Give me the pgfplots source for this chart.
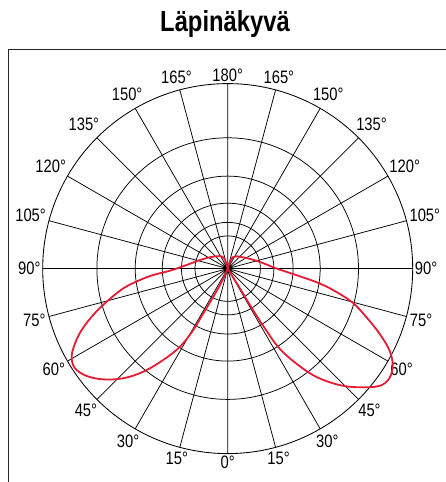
\documentclass[border=0pt]{standalone}
\usepackage{fontspec}
\setmainfont{Liberation Sans}[FakeStretch=0.82]
\usepackage{pgfplots}
\pgfplotsset{compat=1.18}
\usepgfplotslibrary{polar}
\definecolor{curvered}{RGB}{228,28,52}
\begin{document}
\begin{tikzpicture}[x=1pt,y=1pt]
\useasboundingbox (0,0) rectangle (445,482);
\draw[line width=1.5pt, black!85] (8.5,-5) -- (8.5,432.5) -- (450,432.5);
\node[anchor=base, font=\bfseries\fontsize{29}{32}\selectfont, inner sep=0pt] at (225,450) {Läpinäkyvä};
\begin{polaraxis}[
  at={(227.7pt,213.4pt)}, anchor=center,
  scale only axis, width=370pt, height=370pt,
  ymin=0, ymax=185,
  ytick={32.7,46.25,65.4,92.5,130.8},
  yticklabels={},
  xtick={0,15,...,345},
  xticklabels={90°,105°,120°,135°,150°,165°,180°,165°,150°,135°,120°,105°,90°,75°,60°,45°,30°,15°,0°,15°,30°,45°,60°,75°},
  grid=major,
  major grid style={black, line width=0.75pt},
  axis line style={black, line width=0.85pt},
  major tick length=0pt,
  xticklabel style={font=\fontsize{18}{19}\selectfont, inner sep=2pt},
  clip=false,
]
\addplot[curvered, line width=1.8pt, smooth, tension=0.6] coordinates {
(70,0) (66.1,12.4) (37,18.8) (12.3,32.3) (0.36,48.3) (-5.35,68.6) (-9.12,92.8) (-12.04,110.7) (-15.26,129.6) (-19.18,146.4) (-23.11,164.8) (-26.73,180.9) (-30.3,191.1) (-34.17,195.3) (-37.75,191.7) (-42.05,177.2) (-46.2,161.3) (-50.76,139.6) (-54.2,116.8) (-57.1,94.9) (-58.05,72.4) (-58.6,48.4) (-58.3,25.2) (-58.3,9.5) (-58,0)
};
\addplot[curvered, line width=1.8pt, smooth, tension=0.6] coordinates {
(246,0) (245.4,14.4) (242.9,31.6) (241.4,50.9) (240.7,70.4) (238.6,91.5) (234.8,111.8) (230.7,133.2) (226.4,151.4) (221.7,166.5) (217.3,177.2) (213.1,182.4) (209.4,179.1) (206.1,170) (202.8,158.4) (199,142.2) (195.3,125.4) (190.7,106.2) (187.4,88.4) (184.9,74.7) (182.1,57.7) (175,41.2) (162.8,29) (140.4,18.7) (111.3,12.1) (105,0)
};
\end{polaraxis}
\end{tikzpicture}
\end{document}
